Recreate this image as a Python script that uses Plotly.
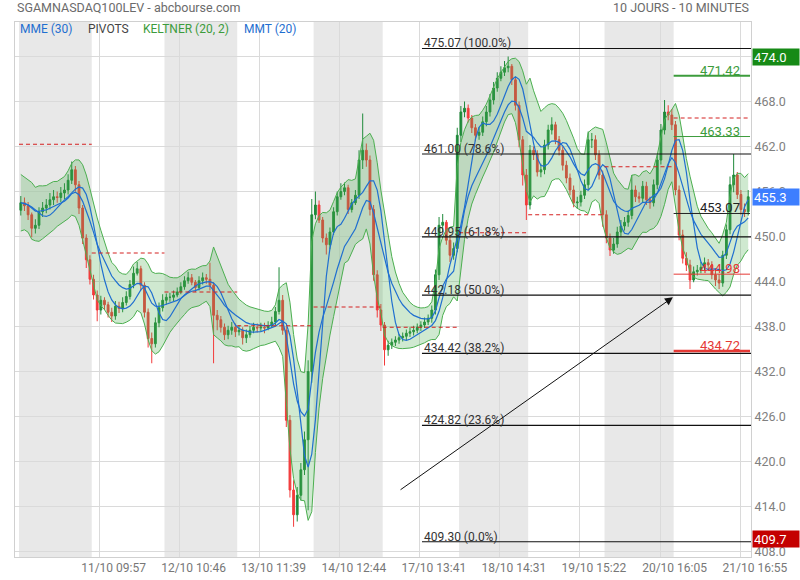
import numpy as np
import pandas as pd
import plotly.graph_objects as go

# ---------------- data ----------------
title_left = "SGAMNASDAQ100LEV - abcbourse.com"
title_right = "10 JOURS - 10 MINUTES"

bars_per_day = [20, 20, 20, 21, 19, 21, 19, 21, 19, 21]
shaded_days = [0, 2, 4, 6, 8]

first_open = 453.5
close = [
    # 10/10
    454.5, 454.1, 452.9, 451.1, 451.5, 453.3, 453.8, 454.2, 454.9, 455.3,
    455.2, 455.8, 456.2, 457.5, 458.9, 456.9, 453.8, 449.8, 446.9, 444.3,
    # 11/10
    442.2, 440.2, 441.5, 440.9, 439.9, 439.4, 440.7, 440.4, 441.2, 442.0,
    443.6, 445.1, 445.7, 443.5, 439.9, 436.4, 435.7, 438.5, 440.5, 441.5,
    # 12/10
    441.9, 441.9, 442.2, 442.6, 443.3, 444.1, 444.5, 443.9, 443.2, 444.1,
    444.5, 444.3, 443.5, 439.5, 438.9, 437.9, 436.9, 437.5, 437.9, 437.3,
    # 13/10
    437.5, 436.5, 436.9, 437.5, 437.9, 437.8, 437.9, 437.8, 438.1, 438.6,
    440.0, 441.5, 437.5, 425.5, 416.2, 412.9, 415.5, 418.9, 422.9, 432.0, 452.9,
    # 14/10
    454.2, 452.2, 449.8, 448.9, 450.6, 453.3, 455.3, 456.0, 456.5, 453.6,
    454.5, 455.5, 460.2, 461.5, 460.2, 453.6, 444.9, 440.2, 438.2,
    # 17/10
    434.9, 435.5, 435.9, 436.2, 436.5, 436.7, 437.1, 437.3, 437.5, 437.9,
    438.2, 438.6, 439.1, 440.2, 444.9, 451.5, 451.9, 449.5, 447.5, 448.4, 463.5,
    # 18/10
    466.6, 467.1, 465.8, 464.5, 463.5, 463.9, 465.3, 466.6, 468.2, 469.8,
    471.1, 471.9, 472.5, 472.7, 470.9, 467.5, 462.9, 458.2, 454.2,
    # 19/10
    461.5, 460.9, 458.6, 458.9, 462.2, 464.2, 464.9, 462.9, 461.5, 459.5,
    457.8, 456.2, 454.5, 454.6, 455.5, 456.9, 462.9, 462.9, 460.9, 458.2, 452.9,
    # 20/10
    449.8, 448.2, 449.0, 450.6, 451.4, 451.9, 452.8, 456.2, 455.3, 455.1,
    456.7, 454.9, 454.5, 456.9, 460.2, 464.2, 466.6, 466.2, 464.9,
    # 21/10
    456.2, 450.2, 447.1, 446.2, 444.2, 445.3, 445.5, 445.9, 446.5, 446.2,
    444.9, 444.2, 443.8, 447.5, 450.9, 456.9, 458.2, 455.6, 453.6, 453.3, 455.3,
]
high = [
    455.4, 455.2, 454.6, 453.2, 452.3, 453.9, 454.6, 455.0, 455.8, 456.2,
    456.0, 456.6, 457.1, 458.3, 460.0, 459.4, 457.4, 454.2, 450.3, 447.5,
    444.9, 442.8, 442.1, 441.9, 441.3, 440.5, 441.4, 441.3, 441.9, 442.7,
    444.2, 446.0, 446.6, 446.1, 443.9, 440.4, 437.2, 439.2, 441.2, 442.3,
    442.4, 442.5, 442.8, 443.2, 443.9, 444.7, 445.3, 445.0, 444.2, 444.7,
    445.2, 445.0, 446.5, 443.9, 440.2, 439.4, 438.4, 438.1, 438.6, 438.4,
    438.2, 437.9, 437.6, 438.1, 438.5, 438.4, 438.5, 438.5, 438.7, 439.3,
    440.6, 445.9, 442.2, 438.0, 426.2, 417.5, 416.6, 419.8, 424.0, 433.5, 455.0,
    456.0, 454.8, 452.6, 450.4, 451.2, 453.9, 456.0, 457.1, 457.2, 456.9,
    455.0, 456.2, 461.5, 466.4, 462.4, 460.8, 454.2, 445.5, 441.0,
    438.6, 436.1, 436.4, 436.7, 437.0, 437.2, 437.6, 437.9, 438.1, 438.4,
    438.7, 439.2, 439.6, 440.8, 445.6, 452.6, 453.0, 452.2, 450.0, 449.2, 464.5,
    467.4, 468.0, 467.6, 466.2, 465.0, 464.6, 466.0, 467.4, 469.0, 470.6,
    471.9, 472.7, 473.4, 474.0, 473.0, 471.3, 468.0, 463.4, 459.0,
    462.2, 462.0, 461.5, 459.7, 462.9, 464.9, 465.9, 465.3, 463.4, 462.0,
    460.1, 458.4, 456.8, 455.3, 456.1, 457.6, 464.0, 463.8, 463.5, 461.5, 458.8,
    453.5, 450.4, 449.8, 451.3, 452.2, 452.6, 453.5, 458.2, 456.8, 455.9,
    457.4, 457.3, 455.3, 457.6, 460.9, 465.0, 468.2, 467.5, 467.0,
    465.4, 456.8, 450.9, 447.9, 446.9, 446.0, 446.2, 446.6, 447.2, 447.0,
    446.7, 445.5, 445.0, 448.1, 451.6, 458.0, 461.0, 458.6, 456.2, 454.4, 456.2,
]
low = [
    452.8, 453.4, 452.2, 449.9, 450.4, 451.0, 452.6, 453.1, 453.6, 454.2,
    454.5, 454.6, 455.0, 455.6, 457.0, 456.0, 453.0, 449.0, 445.8, 443.6,
    441.6, 438.7, 439.6, 440.2, 439.2, 438.6, 438.9, 439.8, 439.9, 440.8,
    441.6, 443.1, 444.8, 442.8, 439.2, 435.2, 433.1, 435.2, 437.9, 440.0,
    440.9, 441.3, 441.4, 441.9, 442.3, 442.9, 443.7, 443.5, 442.6, 442.8,
    443.6, 443.7, 442.8, 433.1, 437.5, 437.2, 436.2, 436.3, 436.9, 436.6,
    436.8, 435.6, 435.8, 436.5, 437.1, 437.2, 437.3, 437.1, 437.5, 437.9,
    438.2, 439.6, 436.9, 424.6, 415.2, 411.3, 412.0, 414.8, 418.2, 413.5, 430.5,
    452.3, 451.8, 449.2, 447.6, 448.3, 450.2, 452.8, 454.9, 455.5, 453.0,
    453.2, 454.2, 455.0, 459.0, 459.3, 452.8, 444.1, 439.2, 437.4,
    432.8, 434.1, 435.0, 435.4, 435.7, 436.0, 436.2, 436.6, 436.8, 437.1,
    437.4, 437.8, 438.2, 438.5, 439.6, 444.2, 450.6, 448.9, 446.6, 446.9, 447.9,
    462.6, 465.9, 465.2, 463.8, 462.7, 462.9, 463.4, 464.7, 466.0, 467.6,
    469.3, 470.7, 471.4, 471.9, 470.2, 466.8, 461.9, 456.8, 452.2,
    453.6, 460.2, 458.0, 457.9, 458.3, 461.6, 463.6, 462.3, 460.8, 458.8,
    457.1, 455.5, 453.9, 453.7, 454.0, 455.0, 456.3, 461.8, 460.2, 457.6, 451.3,
    449.1, 447.4, 447.7, 448.5, 450.0, 450.8, 451.3, 452.3, 454.6, 454.5,
    454.6, 454.2, 453.7, 454.0, 456.3, 459.6, 463.6, 465.5, 464.2,
    455.5, 449.5, 446.4, 445.4, 443.0, 443.9, 444.8, 445.1, 445.5, 445.5,
    444.3, 443.4, 443.0, 443.3, 447.0, 450.3, 455.9, 455.0, 452.9, 452.6, 452.8,
]

# daily pivot level (dashed)
pivots = [462.3, 447.8, 442.6, 438.1, 440.6, 437.9, 450.5, 452.9, 459.3, 465.8]

# Fibonacci retracement
fib_levels = [475.07, 461.00, 449.95, 442.18, 434.42, 424.82, 409.30]
fib_pcts = [100.0, 78.6, 61.8, 50.0, 38.2, 23.6, 0.0]
fib_start = 110.3

# levels drawn on the last day
level_values = [471.42, 463.33, 453.07, 444.98, 434.72]
level_colors = ["#3c9c3c", "#3c9c3c", "#222222", "#e53935", "#e53935"]
level_widths = [2, 1, 1, 1, 2.5]

# trend arrow (bar index, price)
arrow_from = (104.0, 416.1)
arrow_to = (179.3, 441.9)

# right-axis badges
badge_values = [474.0, 455.3, 409.7]
badge_colors = ["#168a16", "#3d7eff", "#c40000"]

y_ticks = [408, 414, 420, 426, 432, 438, 444, 450, 456, 462, 468, 474]
x_tick_idx = [21.65, 43.65, 65.65, 87.7, 109.7, 131.7, 153.7, 175.9, 198.0]
x_tick_text = ["11/10 09:57", "12/10 10:46", "13/10 11:39", "14/10 12:44",
               "17/10 13:41", "18/10 14:31", "19/10 15:22", "20/10 16:05",
               "21/10 16:55"]

# indicator settings (periods / width scaled to the coarser bar resolution used here)
KELT_N, KELT_MULT = 8, 1.45
KELT_ATR_SEED = 2.6
MME_N = 12
MMT_N = 8

# ---------------- derived ----------------
c = pd.Series(close, dtype=float)
h = pd.Series(high, dtype=float)
l = pd.Series(low, dtype=float)
o = pd.Series([first_open] + close[:-1], dtype=float)
h = np.maximum(h, np.maximum(o, c))
l = np.minimum(l, np.minimum(o, c))
N = len(c)
idx = np.arange(N)

mid = c.ewm(span=KELT_N, adjust=False).mean()
prev_c = c.shift(1).fillna(o)
tr = pd.concat([h - l, (h - prev_c).abs(), (l - prev_c).abs()], axis=1).max(axis=1)
tr.iloc[0] = KELT_ATR_SEED
atr = tr.ewm(span=KELT_N, adjust=False).mean()
upper = mid + KELT_MULT * atr
lower = mid - KELT_MULT * atr

mme = c.ewm(span=MME_N, adjust=False).mean()
n1 = int(np.ceil((MMT_N + 1) / 2))
n2 = int(np.floor((MMT_N + 1) / 2))
mmt = c.rolling(n1, min_periods=1).mean().rolling(n2, min_periods=1).mean()

day_start = np.concatenate([[0], np.cumsum(bars_per_day)[:-1]]) - 0.5
day_end = np.cumsum(bars_per_day) - 0.5

X_MIN, X_MAX = -1.6, N - 0.5 + 0.27
Y_MIN, Y_MAX = 407.27, 478.6

FONT = "Roboto"
GREEN_UP = "#1f8a3a"
RED_DN = "#f23b3b"

fig = go.Figure()
fig.add_trace(go.Candlestick(
    x=idx, open=o, high=h, low=l, close=c,
    increasing=dict(line=dict(color=GREEN_UP, width=1), fillcolor=GREEN_UP),
    decreasing=dict(line=dict(color=RED_DN, width=1), fillcolor=RED_DN),
    whiskerwidth=0, hoverinfo="skip", showlegend=False,
))
fig.add_trace(go.Scatter(x=idx, y=upper, mode="lines",
                         line=dict(color="#4caf50", width=1),
                         hoverinfo="skip", showlegend=False))
fig.add_trace(go.Scatter(x=idx, y=lower, mode="lines",
                         line=dict(color="#4caf50", width=1),
                         fill="tonexty", fillcolor="rgba(76,175,80,0.27)",
                         hoverinfo="skip", showlegend=False))
fig.add_trace(go.Scatter(x=idx, y=mme, mode="lines",
                         line=dict(color="#1f6fd0", width=1.2),
                         hoverinfo="skip", showlegend=False))
fig.add_trace(go.Scatter(x=idx, y=mmt, mode="lines",
                         line=dict(color="#1f6fd0", width=1.2),
                         hoverinfo="skip", showlegend=False))

shapes = []
for d in shaded_days:
    shapes.append(dict(type="rect", xref="x", yref="paper",
                       x0=day_start[d], x1=day_end[d], y0=0, y1=1,
                       fillcolor="#e8e8e8", line=dict(width=0), layer="below"))
for d, pv in enumerate(pivots):
    shapes.append(dict(type="line", xref="x", yref="y",
                       x0=day_start[d], x1=day_end[d], y0=pv, y1=pv,
                       line=dict(color="#d42020", width=1, dash="4px,3px"),
                       layer="above"))
for lv in fib_levels:
    shapes.append(dict(type="line", xref="x", yref="y",
                       x0=fib_start, x1=X_MAX, y0=lv, y1=lv,
                       line=dict(color="#111111", width=1.2), layer="above"))
for lv, col, w in zip(level_values, level_colors, level_widths):
    shapes.append(dict(type="line", xref="x", yref="y",
                       x0=day_start[-1], x1=day_end[-1], y0=lv, y1=lv,
                       line=dict(color=col, width=w), layer="above"))

ann = []
for lv, pct in zip(fib_levels, fib_pcts):
    ann.append(dict(x=fib_start, y=lv, xref="x", yref="y", xanchor="left",
                    yanchor="bottom", yshift=-4, showarrow=False,
                    text=f"{lv:.2f} ({pct:.1f}%)",
                    font=dict(family=FONT, size=12, color="#333333")))
for lv, col in zip(level_values, level_colors):
    ann.append(dict(x=day_end[-1], y=lv, xref="x", yref="y", xanchor="right",
                    yanchor="bottom", xshift=-8, yshift=-4, showarrow=False,
                    text=f"{lv:.2f}",
                    font=dict(family=FONT, size=13, color=col)))
ann.append(dict(x=arrow_to[0], y=arrow_to[1], ax=arrow_from[0], ay=arrow_from[1],
                xref="x", yref="y", axref="x", ayref="y", showarrow=True,
                arrowhead=2, arrowsize=1.6, arrowwidth=1, arrowcolor="#111111",
                text=""))
for bv, bc in zip(badge_values, badge_colors):
    ann.append(dict(x=1, y=bv, xref="paper", yref="y", xanchor="left",
                    yanchor="middle", xshift=1, showarrow=False,
                    text=f"{bv:.1f}", bgcolor=bc, width=44, height=14,
                    align="left", borderpad=1,
                    font=dict(family=FONT, size=13, color="white")))
# header texts
ann.append(dict(x=0, y=1, xref="paper", yref="paper", xanchor="left",
                yanchor="middle", yshift=14.5, showarrow=False, text=title_left,
                font=dict(family=FONT, size=12.5, color="#6b6b6b")))
ann.append(dict(x=1, y=1, xref="paper", yref="paper", xanchor="right",
                yanchor="middle", yshift=14.5, showarrow=False, text=title_right,
                font=dict(family=FONT, size=12.5, color="#6b6b6b")))
legend_items = [("MME (30)", "#1f6fd0", 3), ("PIVOTS", "#444444", 71),
                ("KELTNER (20, 2)", "#3c9c3c", 126), ("MMT (20)", "#1f6fd0", 227)]
for txt, col, dx in legend_items:
    ann.append(dict(x=0, y=1, xref="paper", yref="paper", xanchor="left",
                    yanchor="middle", xshift=dx, yshift=-7, showarrow=False,
                    text=txt, font=dict(family=FONT, size=12, color=col)))

fig.update_layout(
    width=800, height=580,
    margin=dict(l=15, r=49, t=22, b=23, autoexpand=False),
    paper_bgcolor="white", plot_bgcolor="white",
    shapes=shapes, annotations=ann, showlegend=False,
    font=dict(family=FONT),
    xaxis=dict(range=[X_MIN, X_MAX], tickvals=x_tick_idx, ticktext=x_tick_text,
               ticklabelshift=14, showgrid=True, gridcolor="#dadada",
               showline=True, mirror=True, linecolor="#d0d0d0",
               zeroline=False, ticks="", automargin=False,
               rangeslider=dict(visible=False),
               tickfont=dict(family=FONT, size=12, color="#777777")),
    yaxis=dict(range=[Y_MIN, Y_MAX], side="right", tickvals=y_ticks,
               ticktext=[f"{v:.1f}" for v in y_ticks], automargin=False,
               showgrid=True, gridcolor="#dadada", showline=True, mirror=True,
               linecolor="#d0d0d0", zeroline=False, ticks="",
               tickfont=dict(family=FONT, size=12.5, color="#808080")),
)

# remove the page's default body margin so the 800x580 figure fills the window
fig.write_html("out.html", config={"displayModeBar": False},
               post_script="document.body.style.margin='0';document.body.style.overflow='hidden';")
